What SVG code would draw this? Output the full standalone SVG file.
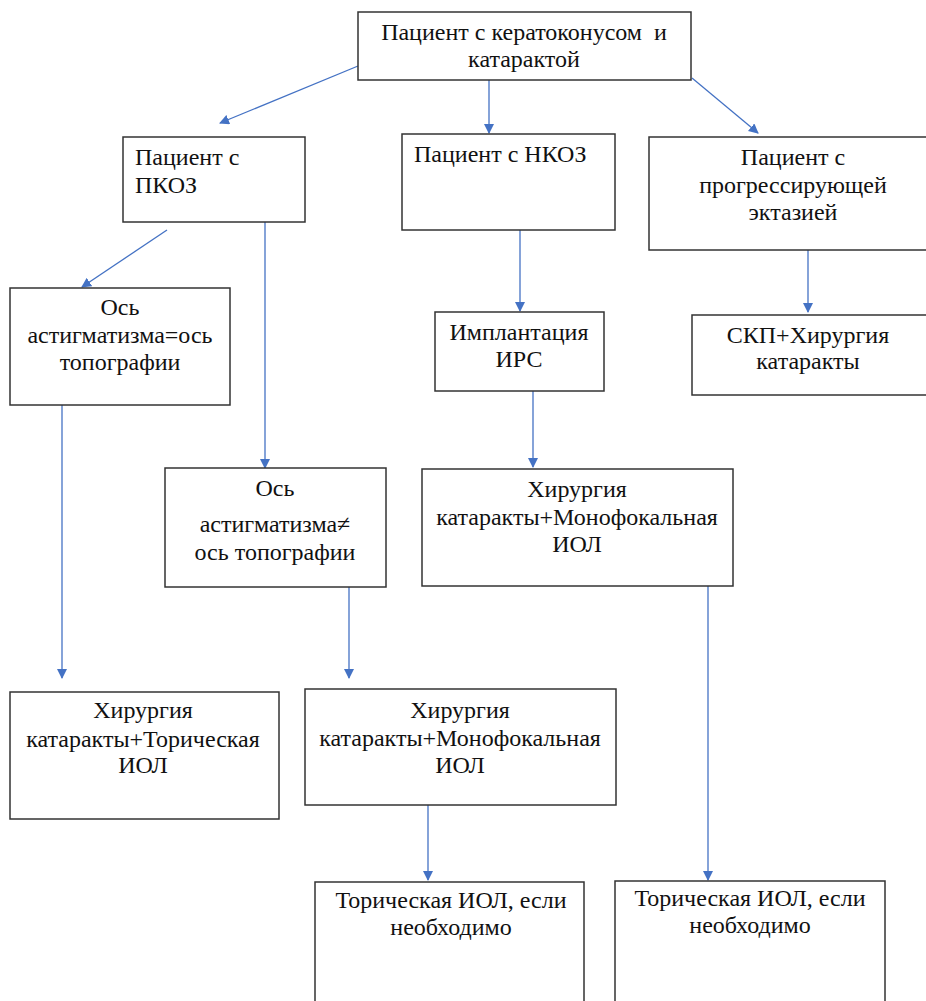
<svg xmlns="http://www.w3.org/2000/svg" width="926" height="1001" viewBox="0 0 926 1001">
<defs>
<marker id="ah" markerWidth="10" markerHeight="10" refX="9" refY="5" orient="auto" markerUnits="userSpaceOnUse">
<path d="M0,0 L10,5 L0,10 z" fill="#4472C4"/>
</marker>
<style>
.box{fill:#fff;stroke:#333;stroke-width:1.5}
.ln{stroke:#4472C4;stroke-width:1.3;fill:none;marker-end:url(#ah)}
.t{font-family:'Liberation Serif','Times New Roman',serif;font-size:24px;fill:#111}
.c{text-anchor:middle}
</style>
</defs>
<rect width="926" height="1001" fill="#fff"/>
<g id="connectors">
<line class="ln" x1="358" y1="66" x2="220" y2="123"/>
<line class="ln" x1="489" y1="80" x2="489" y2="133"/>
<line class="ln" x1="692" y1="78" x2="758" y2="133"/>
<line class="ln" x1="167" y1="230" x2="82" y2="287"/>
<line class="ln" x1="265" y1="222" x2="265" y2="468"/>
<line class="ln" x1="62" y1="405" x2="62" y2="678"/>
<line class="ln" x1="520" y1="230" x2="520" y2="311"/>
<line class="ln" x1="808" y1="250" x2="808" y2="312"/>
<line class="ln" x1="533" y1="391" x2="533" y2="467"/>
<line class="ln" x1="349" y1="587" x2="349" y2="678"/>
<line class="ln" x1="708" y1="586" x2="708" y2="880"/>
<line class="ln" x1="428" y1="805" x2="428" y2="880"/>
</g>
<g id="nodes">
<g id="n_root"><rect class="box" x="358" y="12" width="333" height="68"/>
<text class="t c" x="524" y="40" style="white-space:pre">Пациент с кератоконусом  и</text>
<text class="t c" x="524" y="67">катарактой</text></g>
<g id="n_pkoz"><rect class="box" x="123" y="137" width="182" height="85"/>
<text class="t" x="135" y="165">Пациент с</text>
<text class="t" x="135" y="193">ПКОЗ</text></g>
<g id="n_nkoz"><rect class="box" x="402" y="134" width="213" height="96"/>
<text class="t" x="414" y="162">Пациент с НКОЗ</text></g>
<g id="n_prog"><rect class="box" x="649" y="137" width="290" height="113"/>
<text class="t c" x="793" y="165">Пациент с</text>
<text class="t c" x="793" y="193">прогрессирующей</text>
<text class="t c" x="793" y="220">эктазией</text></g>
<g id="n_axeq"><rect class="box" x="10" y="288" width="220" height="117"/>
<text class="t c" x="120" y="315">Ось</text>
<text class="t c" x="120" y="343">астигматизма=ось</text>
<text class="t c" x="120" y="370">топографии</text></g>
<g id="n_irs"><rect class="box" x="435" y="312" width="169" height="79"/>
<text class="t c" x="519" y="340">Имплантация</text>
<text class="t c" x="519" y="367">ИРС</text></g>
<g id="n_skp"><rect class="box" x="692" y="315" width="245" height="80"/>
<text class="t c" x="808" y="343">СКП+Хирургия</text>
<text class="t c" x="808" y="369">катаракты</text></g>
<g id="n_axne"><rect class="box" x="165" y="468" width="221" height="119"/>
<text class="t c" x="275" y="496">Ось</text>
<text class="t c" x="275" y="532">астигматизма≠</text>
<text class="t c" x="275" y="560">ось топографии</text></g>
<g id="n_mono1"><rect class="box" x="422" y="469" width="311" height="117"/>
<text class="t c" x="577" y="497">Хирургия</text>
<text class="t c" x="577" y="525">катаракты+Монофокальная</text>
<text class="t c" x="577" y="552">ИОЛ</text></g>
<g id="n_toric"><rect class="box" x="10" y="692" width="269" height="127"/>
<text class="t c" x="143" y="718">Хирургия</text>
<text class="t c" x="143" y="747">катаракты+Торическая</text>
<text class="t c" x="143" y="773">ИОЛ</text></g>
<g id="n_mono2"><rect class="box" x="305" y="689" width="311" height="116"/>
<text class="t c" x="460" y="718">Хирургия</text>
<text class="t c" x="460" y="746">катаракты+Монофокальная</text>
<text class="t c" x="460" y="773">ИОЛ</text></g>
<g id="n_tor1"><rect class="box" x="315" y="882" width="269" height="130"/>
<text class="t c" x="451" y="908">Торическая ИОЛ, если</text>
<text class="t c" x="451" y="935">необходимо</text></g>
<g id="n_tor2"><rect class="box" x="615" y="881" width="270" height="130"/>
<text class="t c" x="750" y="906">Торическая ИОЛ, если</text>
<text class="t c" x="750" y="933">необходимо</text></g>
</g>
</svg>
